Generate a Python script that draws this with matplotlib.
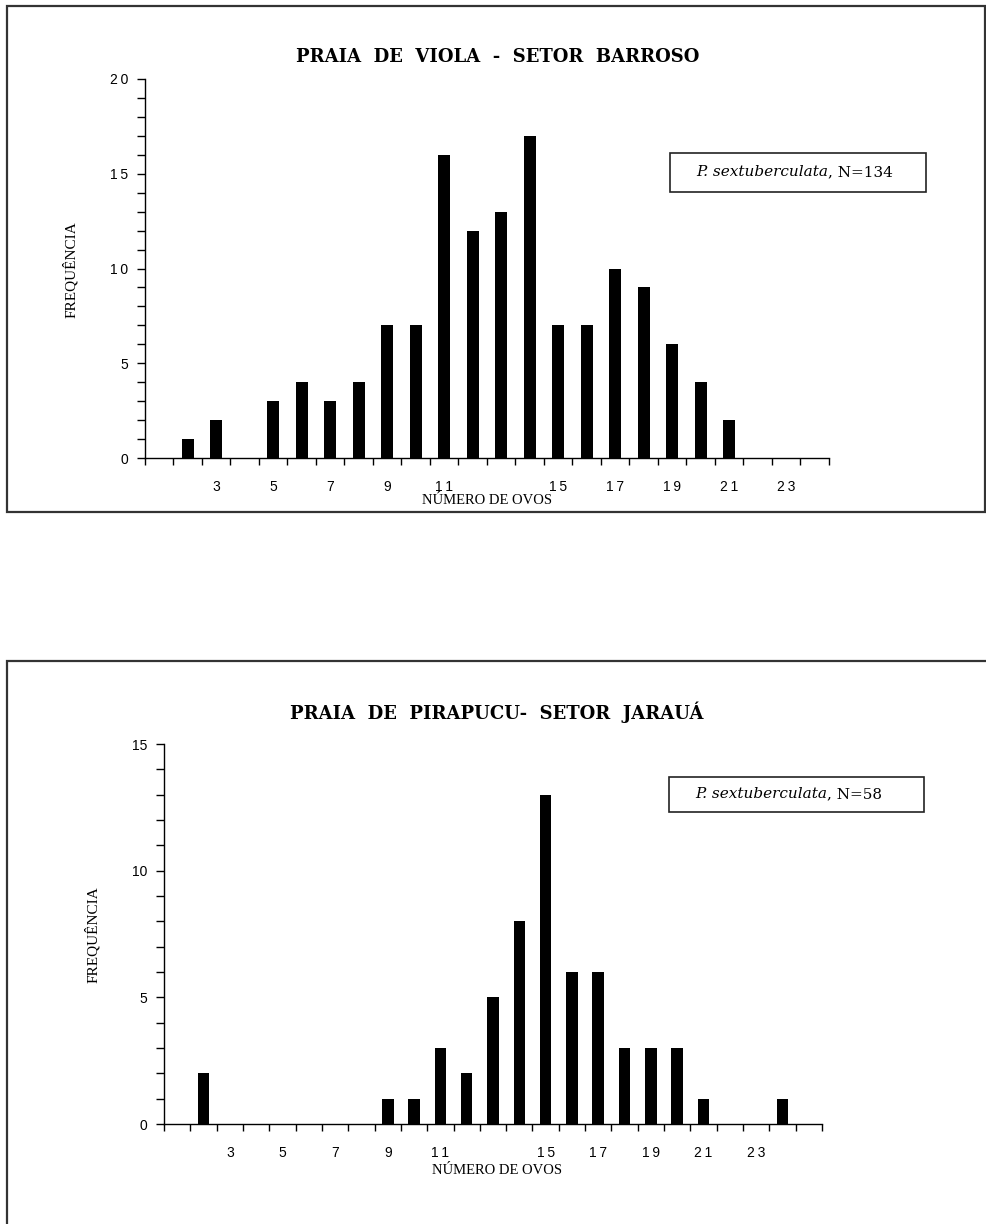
import matplotlib
matplotlib.use("Agg")
import matplotlib.pyplot as plt
from matplotlib.patches import Rectangle

# numero de ovos por ninho (classes) e frequencias
ovos_viola = list(range(1, 25))
freq_viola = [0, 1, 2, 0, 3, 4, 3, 4, 7, 7, 16, 12, 13, 17, 7, 7, 10, 9, 6, 4, 2, 0, 0, 0]

ovos_pirapucu = list(range(1, 26))
freq_pirapucu = [0, 2, 0, 0, 0, 0, 0, 0, 1, 1, 3, 2, 5, 8, 13, 6, 6, 3, 3, 3, 1, 0, 0, 1, 0]

rotulos_x = [3, 5, 7, 9, 11, 15, 17, 19, 21, 23]

titulo_viola = "PRAIA  DE  VIOLA  -  SETOR  BARROSO"
titulo_pirapucu = "PRAIA  DE  PIRAPUCU-  SETOR  JARAUÁ"
especie = "P. sextuberculata"
n_viola = ", N=134"
n_pirapucu = ", N=58"

W, H = 987, 1224
fig = plt.figure(figsize=(W / 100, H / 100), dpi=100)


def fx(px):
    return px / W


def fy(py):
    return 1 - py / H


def espacar(s):
    # rotulos do excel com espaco entre digitos
    return "\u2009".join(s)


def painel(ax, ovos, freq, ymax, ystep, largura, espaco_y, pad_x):
    ax.bar(ovos, freq, width=largura, color="black", edgecolor="black", linewidth=0)
    ax.set_xlim(0.5, len(ovos) + 0.5)
    ax.set_ylim(0, ymax)
    for s in ["top", "right"]:
        ax.spines[s].set_visible(False)
    ax.spines["left"].set_linewidth(1)
    ax.spines["bottom"].set_linewidth(1)

    ax.set_xticks(rotulos_x)
    ax.set_xticklabels([espacar(str(v)) for v in rotulos_x])
    ax.set_xticks([i + 0.5 for i in range(0, len(ovos) + 1)], minor=True)
    ax.tick_params(axis="x", which="major", length=0, pad=pad_x, labelsize=10)
    ax.tick_params(axis="x", which="minor", length=5, width=1, direction="out")

    yt = list(range(0, ymax + 1, ystep))
    ax.set_yticks(yt)
    if espaco_y:
        ax.set_yticklabels([espacar(str(v)) for v in yt])
    else:
        ax.set_yticklabels([str(v) for v in yt])
    ax.set_yticks(range(0, ymax + 1), minor=True)
    ax.tick_params(axis="y", which="both", length=6, width=1, direction="out",
                   labelsize=10, pad=6)
    for lab in ax.get_xticklabels() + ax.get_yticklabels():
        lab.set_family(["Liberation Sans", "DejaVu Sans"])


# ---------- painel de cima ----------
ax1 = fig.add_axes([fx(145), fy(458), fx(829 - 145), (458 - 79) / H])
painel(ax1, ovos_viola, freq_viola, 20, 5, 0.42, True, 16)

# ---------- painel de baixo ----------
ax2 = fig.add_axes([fx(164), fy(1124), fx(822 - 164), (1124 - 744) / H])
painel(ax2, ovos_pirapucu, freq_pirapucu, 15, 5, 0.44, False, 16)

# molduras
fig.patches.append(Rectangle((fx(7), fy(512)), fx(985 - 7), (512 - 6) / H,
                             transform=fig.transFigure, fill=False,
                             edgecolor="#333333", linewidth=1.6))
fig.patches.append(Rectangle((fx(7), fy(1240)), fx(990 - 7), (1240 - 661) / H,
                             transform=fig.transFigure, fill=False,
                             edgecolor="#333333", linewidth=1.6))

# titulos
fig.text(fx(498), fy(57), titulo_viola, ha="center", va="center",
         family="DejaVu Serif", weight="bold", fontsize=13)
fig.text(fx(497), fy(712), titulo_pirapucu, ha="center", va="center",
         family="DejaVu Serif", weight="bold", fontsize=13)

# eixos
fig.text(fx(70), fy(270), "FREQUÊNCIA", rotation=90, ha="center", va="center",
         family="Liberation Serif", fontsize=11)
fig.text(fx(487), fy(501), "NÚMERO DE OVOS", ha="center", va="center",
         family="Liberation Serif", fontsize=10.5)
fig.text(fx(92), fy(935), "FREQUÊNCIA", rotation=90, ha="center", va="center",
         family="Liberation Serif", fontsize=11)
fig.text(fx(497), fy(1170), "NÚMERO DE OVOS", ha="center", va="center",
         family="Liberation Serif", fontsize=10.5)

# legendas (caixa + especie em italico + N)
legendas = [(670, 153, 926, 192, n_viola), (669, 777, 924, 812, n_pirapucu)]
nomes = []
for x0, y0, x1, y1, n_txt in legendas:
    fig.patches.append(Rectangle((fx(x0), fy(y1)), fx(x1 - x0), (y1 - y0) / H,
                                 transform=fig.transFigure, fill=False,
                                 edgecolor="#222222", linewidth=1.2))
    t = fig.text(fx(x0 + 26), fy((y0 + y1) / 2), especie, ha="left", va="center",
                 family="DejaVu Serif", style="italic", fontsize=11)
    nomes.append((t, n_txt))

fig.canvas.draw()
for t, n_txt in nomes:
    bb = t.get_window_extent()
    fig.text(bb.x1 / W, t.get_position()[1], n_txt, ha="left", va="center",
             family="DejaVu Serif", fontsize=11)

fig.savefig("out.png", dpi=100)
